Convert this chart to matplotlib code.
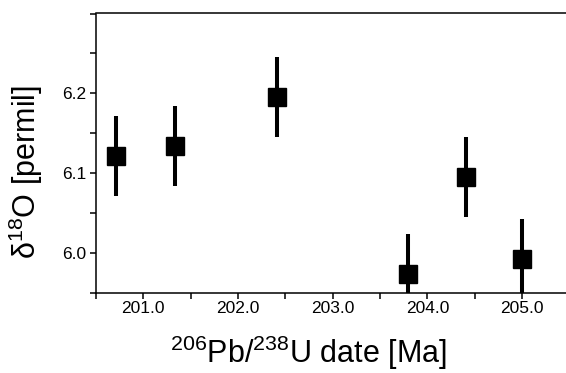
import matplotlib
matplotlib.use("Agg")
import matplotlib.pyplot as plt
from matplotlib.ticker import MultipleLocator

plt.rcParams['font.family'] = ['Liberation Sans', 'DejaVu Sans']
plt.rcParams['mathtext.fontset'] = 'custom'
plt.rcParams['mathtext.rm'] = 'Liberation Sans'
plt.rcParams['mathtext.default'] = 'regular'

# data
ages = [200.71, 201.33, 202.41, 203.79, 204.41, 205.00]
d18O = [6.122, 6.134, 6.195, 5.974, 6.095, 5.993]
d18O_err = [0.05, 0.05, 0.05, 0.05, 0.05, 0.05]
xticks = [201.0, 202.0, 203.0, 204.0, 205.0]
xtick_labels = ['201.0', '202.0', '203.0', '204.0', '205.0']
yticks = [6.0, 6.1, 6.2]
ytick_labels = ['6.0', '6.1', '6.2']

fig = plt.figure(figsize=(5.66, 3.73), dpi=100)
ax = fig.add_axes([96/566, 80/373, (569.5-96)/566, (293-13.5)/373])

ax.errorbar(ages, d18O, yerr=d18O_err, fmt='s', color='black',
            markersize=13, elinewidth=2.9, capsize=0, ecolor='black')

ax.set_xlim(200.5, 205.5)
ax.set_ylim(5.95, 6.3)
ax.set_xticks(xticks)
ax.set_xticklabels(xtick_labels)
ax.set_yticks(yticks)
ax.set_yticklabels(ytick_labels)
ax.xaxis.set_minor_locator(MultipleLocator(0.5))
ax.yaxis.set_minor_locator(MultipleLocator(0.05))

for s in ['left', 'top', 'bottom']:
    ax.spines[s].set_linewidth(1.1)
ax.spines['right'].set_visible(False)

ax.tick_params(axis='both', which='both', direction='out', length=4, width=1.1,
               labelsize=12.5, top=False, right=False)
ax.tick_params(axis='x', which='both', pad=2)
ax.tick_params(axis='y', which='both', pad=3)

ax.set_xlabel('$^{206}$Pb/$^{238}$U date [Ma]', fontsize=22)
ax.xaxis.set_label_coords((308-96)/(569.5-96), (293-353)/(293-13.5))
ax.xaxis.label.set_va('center')
ax.set_ylabel('δ$^{18}$O [permil]', fontsize=22)
ax.yaxis.set_label_coords((26-96)/(569.5-96), (293-172)/(293-13.5))
ax.yaxis.label.set_va('center')

fig.savefig('out.png', dpi=100)
